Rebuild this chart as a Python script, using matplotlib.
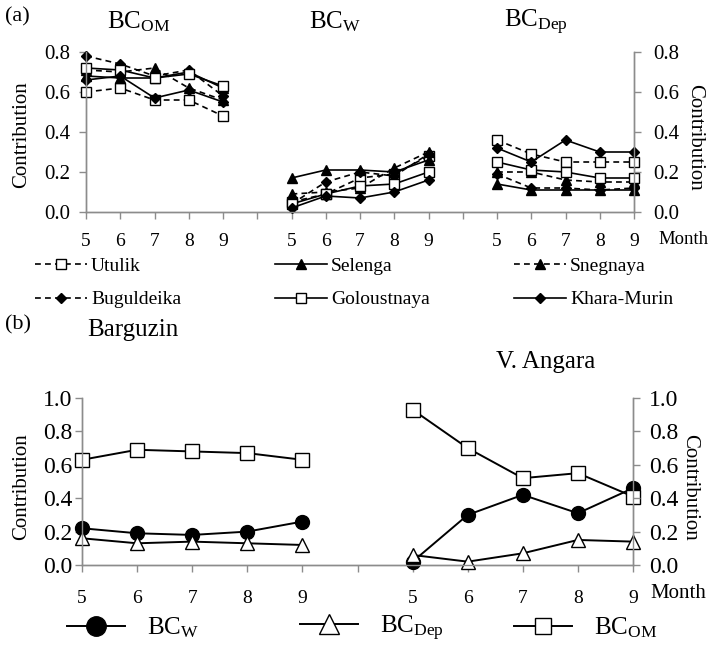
import matplotlib
matplotlib.use('Agg')
import matplotlib.pyplot as plt
from matplotlib.lines import Line2D

plt.rcParams['font.family'] = ['Liberation Serif', 'DejaVu Serif']
plt.rcParams['mathtext.fontset'] = 'custom'
plt.rcParams['mathtext.rm'] = 'Liberation Serif'
plt.rcParams['mathtext.it'] = 'Liberation Serif:italic'

# ---- data -------------------------------------------------------------
months = ['5', '6', '7', '8', '9']

# panel (a): contributions per river, months 5..9
rivers = ['Utulik', 'Selenga', 'Snegnaya', 'Buguldeika', 'Goloustnaya', 'Khara-Murin']

om_utulik = [0.60, 0.62, 0.56, 0.56, 0.48]
om_selenga = [0.68, 0.67, 0.67, 0.70, 0.62]
om_snegnaya = [0.71, 0.70, 0.72, 0.62, 0.56]
om_buguldeika = [0.78, 0.74, 0.68, 0.71, 0.58]
om_goloustnaya = [0.72, 0.71, 0.67, 0.69, 0.63]
om_kharamurin = [0.66, 0.68, 0.57, 0.61, 0.55]

w_utulik = [0.05, 0.09, 0.17, 0.19, 0.28]
w_selenga = [0.17, 0.21, 0.21, 0.20, 0.26]
w_snegnaya = [0.09, 0.10, 0.12, 0.22, 0.30]
w_buguldeika = [0.04, 0.15, 0.20, 0.18, 0.29]
w_goloustnaya = [0.04, 0.09, 0.13, 0.14, 0.20]
w_kharamurin = [0.02, 0.08, 0.07, 0.10, 0.16]

dep_utulik = [0.36, 0.29, 0.25, 0.25, 0.25]
dep_selenga = [0.14, 0.11, 0.11, 0.11, 0.11]
dep_snegnaya = [0.20, 0.20, 0.16, 0.15, 0.15]
dep_buguldeika = [0.19, 0.12, 0.12, 0.11, 0.12]
dep_goloustnaya = [0.25, 0.21, 0.20, 0.17, 0.17]
dep_kharamurin = [0.32, 0.25, 0.36, 0.30, 0.30]

om_vals = [om_utulik, om_selenga, om_snegnaya, om_buguldeika, om_goloustnaya, om_kharamurin]
w_vals = [w_utulik, w_selenga, w_snegnaya, w_buguldeika, w_goloustnaya, w_kharamurin]
dep_vals = [dep_utulik, dep_selenga, dep_snegnaya, dep_buguldeika, dep_goloustnaya, dep_kharamurin]

# panel (b)
barguzin_w = [0.22, 0.19, 0.18, 0.20, 0.26]
barguzin_dep = [0.16, 0.13, 0.14, 0.13, 0.12]
barguzin_om = [0.63, 0.69, 0.68, 0.67, 0.63]

angara_w = [0.02, 0.30, 0.42, 0.31, 0.46]
angara_dep = [0.06, 0.02, 0.07, 0.15, 0.14]
angara_om = [0.93, 0.70, 0.52, 0.55, 0.41]

# ---- layout helpers (pixel -> figure fraction) --------------------------
W, H = 709, 647
def fx(px):
    return px / W
def fy(py):
    return 1 - py / H

GRAY = '#8c8c8c'
DASH = (0, (3.5, 2.5))

fig = plt.figure(figsize=(7.09, 6.47), dpi=100)

def style_axes(ax, ax2, ymax, step, fs, xfs, lpad, rpad, xpad):
    for a in (ax, ax2):
        a.spines['top'].set_visible(False)
        for s in ('left', 'right', 'bottom'):
            a.spines[s].set_color(GRAY)
            a.spines[s].set_linewidth(1.0)
        a.set_ylim(0, ymax)
    ticks = [round(i * step, 1) for i in range(int(round(ymax / step)) + 1)]
    ax.set_yticks(ticks)
    ax.set_yticklabels(['%.1f' % t for t in ticks], fontsize=fs)
    ax2.set_yticks(ticks)
    ax2.set_yticklabels(['%.1f' % t for t in ticks], fontsize=fs)
    ax.tick_params(axis='y', direction='out', length=5, width=1, color=GRAY, pad=lpad)
    ax2.tick_params(axis='y', direction='out', length=5, width=1, color=GRAY, pad=rpad)
    ax.tick_params(axis='x', direction='out', length=5, width=1, color=GRAY, pad=xpad,
                   labelsize=xfs)

# ---- panel (a) ----------------------------------------------------------
styles = {
    'Utulik': dict(ls=DASH, marker='s', mfc='white', ms=7.5),
    'Selenga': dict(ls='-', marker='^', mfc='black', ms=7.5),
    'Snegnaya': dict(ls=DASH, marker='^', mfc='black', ms=7.5),
    'Buguldeika': dict(ls=DASH, marker='D', mfc='black', ms=5.5),
    'Goloustnaya': dict(ls='-', marker='s', mfc='white', ms=7.5),
    'Khara-Murin': dict(ls='-', marker='D', mfc='black', ms=5.5),
}

axA = fig.add_axes([fx(86), fy(212), fx(634) - fx(86), fy(52) - fy(212)])
axA2 = axA.twinx()
axA.set_xlim(0, 16)
group_starts = [0, 6, 12]
handles_a = {}
for name, om, w, dep in zip(rivers, om_vals, w_vals, dep_vals):
    st = styles[name]
    for g, vals in zip(group_starts, (om, w, dep)):
        xs = [g + i for i in range(len(months))]
        ln, = axA.plot(xs, vals, color='black', lw=1.2, linestyle=st['ls'],
                       marker=st['marker'], ms=st['ms'], mfc=st['mfc'], mec='black',
                       mew=1.0, clip_on=False, zorder=3)
    handles_a[name] = ln

xlabels_a = months + [''] + months + [''] + months
axA.set_xticks(range(17))
axA.set_xticklabels(xlabels_a)
style_axes(axA, axA2, 0.8, 0.2, 15, 14, 6.5, 8.5, 10)

fig.text(fx(5), fy(17), '(a)', fontsize=16, ha='left', va='center')
fig.text(fx(139), fy(22), r'BC$_{\mathrm{OM}}$', fontsize=18, ha='center', va='center')
fig.text(fx(335), fy(22), r'BC$_{\mathrm{W}}$', fontsize=18, ha='center', va='center')
fig.text(fx(536), fy(22), r'BC$_{\mathrm{Dep}}$', fontsize=18, ha='center', va='center')
fig.text(fx(22), fy(135), 'Contribution', fontsize=15, rotation=90, ha='center', va='center')
fig.text(fx(695), fy(137), 'Contribution', fontsize=15, rotation=270, ha='center', va='center')
fig.text(fx(658), fy(240), 'Month', fontsize=13.5, ha='left', va='center')

fs_a = 14 * 100 / 72.0
for col, x0 in zip([('Utulik', 'Buguldeika'), ('Selenga', 'Goloustnaya'),
                    ('Snegnaya', 'Khara-Murin')], [35, 275, 514]):
    fig.legend([handles_a[n] for n in col], list(col), loc='center left',
               bbox_to_anchor=(fx(x0), fy(283)), bbox_transform=fig.transFigure,
               frameon=False, borderpad=0, borderaxespad=0, fontsize=14,
               handlelength=52 / fs_a, handletextpad=4 / fs_a, labelspacing=0.8,
               numpoints=1)

# ---- panel (b) ----------------------------------------------------------
axB = fig.add_axes([fx(82), fy(565), fx(633) - fx(82), fy(398) - fy(565)])
axB2 = axB.twinx()
axB.set_xlim(0, 10)
b_styles = [
    dict(marker='o', mfc='black', ms=10),
    dict(marker='^', mfc='white', ms=10),
    dict(marker='s', mfc='white', ms=9.5),
]
b_labels = [r'BC$_{\mathrm{W}}$', r'BC$_{\mathrm{Dep}}$', r'BC$_{\mathrm{OM}}$']
handles_b = []
for st, bar, ang in zip(b_styles, (barguzin_w, barguzin_dep, barguzin_om),
                        (angara_w, angara_dep, angara_om)):
    for g, vals in zip([0, 6], (bar, ang)):
        xs = [g + i for i in range(len(months))]
        ln, = axB.plot(xs, vals, color='black', lw=1.4, marker=st['marker'],
                       ms=st['ms'], mfc=st['mfc'], mec='black', mew=1.0,
                       clip_on=False, zorder=3)
    handles_b.append(ln)

axB.set_xticks(range(11))
axB.set_xticklabels(months + [''] + months)
style_axes(axB, axB2, 1.0, 0.2, 17, 14, 2, 6.5, 13)

fig.text(fx(5), fy(325), '(b)', fontsize=16, ha='left', va='center')
fig.text(fx(133), fy(330), 'Barguzin', fontsize=18, ha='center', va='center')
fig.text(fx(546), fy(362), 'V. Angara', fontsize=18, ha='center', va='center')
fig.text(fx(22), fy(487), 'Contribution', fontsize=15, rotation=90, ha='center', va='center')
fig.text(fx(690), fy(487), 'Contribution', fontsize=15, rotation=270, ha='center', va='center')
fig.text(fx(650), fy(594), 'Month', fontsize=15, ha='left', va='center')

fs_b = 18 * 100 / 72.0
leg_ms = [14, 14, 11]
for h, lab, x0, ms in zip(handles_b, b_labels, [67, 300, 514], leg_ms):
    proxy = Line2D([], [], color='black', lw=1.4, marker=h.get_marker(), ms=ms,
                   mfc=h.get_markerfacecolor(), mec='black', mew=1.0)
    fig.legend([proxy], [lab], loc='center left', bbox_to_anchor=(fx(x0), fy(628)),
               bbox_transform=fig.transFigure, frameon=False, borderpad=0,
               borderaxespad=0, fontsize=18, handlelength=58 / fs_b,
               handletextpad=22 / fs_b, numpoints=1)

fig.savefig('out.png', dpi=100)
